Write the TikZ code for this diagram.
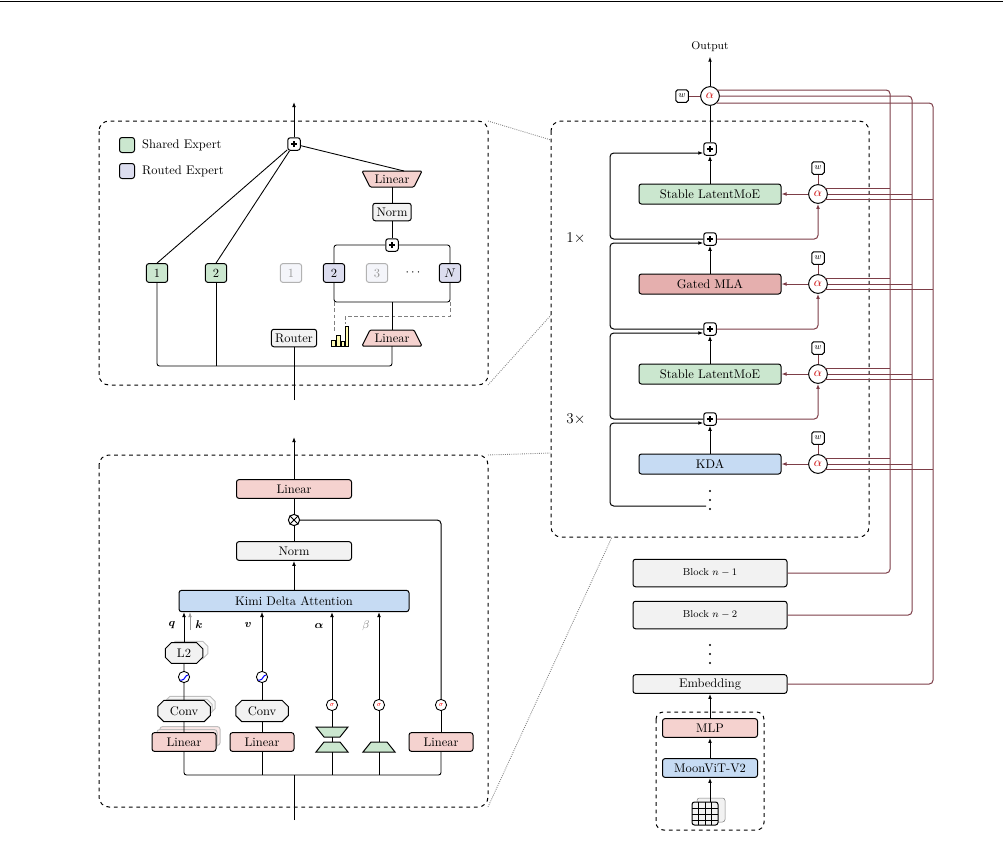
\documentclass[tikz,border=0pt]{standalone}
\usepackage{amsmath}
\usepackage{amssymb}
\usetikzlibrary{shapes.misc,arrows.meta,positioning}
\definecolor{cGreen}{HTML}{CBE7CF}
\definecolor{cRed}{HTML}{F5D2CF}
\definecolor{cMla}{HTML}{E5AFAE}
\definecolor{cBlue}{HTML}{C6DBF3}
\definecolor{cGray}{HTML}{F2F2F2}
\definecolor{cPurple}{HTML}{DCDDEF}
\definecolor{cWire}{HTML}{7D3E48}
\tikzset{
  blk/.style={draw, thick, rounded corners=2pt, minimum height=20pt, inner sep=1pt},
  expert/.style={draw, thick, rounded corners=2pt, minimum width=17pt, minimum height=15pt, inner sep=0pt},
  faded/.style={expert, draw=black!30, text=black!40, fill=cPurple!30},
  oct/.style={draw, thick, chamfered rectangle, chamfered rectangle xsep=2pt, fill=cGray, minimum height=14pt, inner sep=2pt},
  plus/.style={draw, thick, rounded corners=2pt, fill=white, minimum size=10pt, inner sep=0pt},
  mix/.style={draw, thick, circle, fill=white, minimum size=15pt, inner sep=0pt, text=red!80!black},
  wbox/.style={draw, thick, rounded corners=1.5pt, fill=white, minimum size=10pt, inner sep=0pt, font=\scriptsize},
  sig/.style={draw, circle, fill=white, minimum size=9pt, inner sep=0pt, font=\tiny, text=red},
  act/.style={draw, circle, fill=white, minimum size=9pt, inner sep=0pt},
  panel/.style={draw, thick, dashed, rounded corners=8pt},
  wire/.style={cWire, thick, rounded corners=3pt},
  arr/.style={-{Latex[length=4pt]}},
  zoomline/.style={densely dotted, gray},
}
\newcommand{\plussign}{\tikz[baseline=-0.6ex]\draw[line width=1.1pt] (-2.5pt,0) -- (2.5pt,0) (0,-2.5pt) -- (0,2.5pt);}
\newcommand{\vdotsat}[2]{\foreach \k in {0,1,2} \fill (#1,#2+\k*9) circle (0.9pt);}
\begin{document}
\begin{tikzpicture}[x=0.8pt, y=-0.8pt, line width=0.7pt]
\useasboundingbox (0,0) rectangle (1003,845);
\draw[thin] (0,1) -- (1003,1);

% ===== MoE panel =====
\draw[panel] (99,121) rectangle (488,385);
\node[expert, fill=cGreen, minimum size=12pt] (lgG) at (127,145) {};
\node[right=2pt of lgG] {Shared Expert};
\node[expert, fill=cPurple, minimum size=12pt] (lgP) at (127,171) {};
\node[right=2pt of lgP] {Routed Expert};

\node[plus] (mpl) at (294,144) {\plussign};
\node[expert, fill=cGreen] (s1) at (157,273) {1};
\node[expert, fill=cGreen] (s2) at (216,273) {2};
\node[faded] (r1) at (291,273) {1};
\node[expert, fill=cPurple] (r2) at (334,273) {2};
\node[faded] (r3) at (377,273) {3};
\node at (414,273) {$\cdots$};
\node[expert, fill=cPurple] (rN) at (450,273) {$N$};
\node[plus] (rpl) at (392,245) {\plussign};
\node[blk, fill=cGray, minimum height=14pt, inner sep=3pt] (mnorm) at (392,212) {Norm};
\node[blk, fill=cGray, minimum height=14pt, inner sep=3pt] (router) at (294,338) {Router};
% trapezoids
\draw[thick, fill=cRed, rounded corners=1pt] (362,171) -- (422,171) -- (414,187) -- (370,187) -- cycle;
\node (uplin) at (392,179) {Linear};
\draw[thick, fill=cRed, rounded corners=1pt] (370,330) -- (414,330) -- (422,346) -- (362,346) -- cycle;
\node (dnlin) at (392,338) {Linear};
% scores
\draw[thin, fill=yellow!30] (331,340) rectangle (335,346) (336,335) rectangle (340,346) (341,341) rectangle (344,346) (345,326) rectangle (348,346);
\draw[densely dashed, thin, gray] (334,302) -- (334,333);
\draw[densely dashed, thin, gray] (450,302) -- (450,316) -- (345,316) -- (345,324);

\draw (294,400) -- (294,366);
\draw[arr, thick] (mpl) -- (294,102);
\draw (s1.north) -- (mpl) (s2.north) -- (mpl) (404,171) -- (mpl);
\draw (mnorm.south) -- (rpl) (392,187) -- (mnorm.north);
\draw[rounded corners=2pt] (r2.north) |- (rpl) -| (rN.north);
\draw[rounded corners=2pt] (r2.south) |- (392,302) -| (rN.south);
\draw (392,302) -- (392,330);
\draw[rounded corners=2pt] (s1.south) |- (392,366) -- (392,346);
\draw (s2.south) -- (216,366) (router.south) -- (294,366);

% ===== KDA panel =====
\draw[panel] (99,455) rectangle (488,807);
\node[blk, fill=cBlue, minimum width=230pt*0.8, minimum height=17pt] (kda) at (294,601) {Kimi Delta Attention};
\node[blk, fill=cGray, minimum width=115pt*0.8, minimum height=15pt] (knorm) at (294,551) {Norm};
\node[draw, thick, circle, fill=white, inner sep=0pt, minimum size=9pt] (otim) at (294,520) {};
\draw (otim.north east) -- (otim.south west) (otim.north west) -- (otim.south east);
\node[blk, fill=cRed, minimum width=115pt*0.8, minimum height=15pt] (klin) at (294,489) {Linear};
\draw (294,820) -- (294,775);
\draw[arr] (kda.north) -- (knorm.south);
\draw (knorm.north) -- (otim) -- (klin.south);
\draw[arr, thick] (klin.north) -- (294,437);

% q k column
\foreach \d in {6,3} {
  \node[blk, fill=cRed!50, draw=black!25, minimum width=60pt*0.8, minimum height=15pt] at (184+\d,742-\d) {};
  \node[oct, draw=black!25, fill=cGray!50, minimum width=40pt] at (184+\d,711-\d) {};
}
\node[blk, fill=cRed, minimum width=64pt*0.8, minimum height=15pt] (qlin) at (184,742) {Linear};
\node[oct, minimum width=42pt] (qconv) at (184,711) {Conv};
\node[act] (qact) at (184,677) {};
\draw[blue, thick] (180,680) -- (182,680) .. controls (185,680) and (185,675) .. (188,675);
\node[oct, draw=black!25, fill=cGray!50, minimum width=30pt] at (189,650) {};
\node[oct, minimum width=30pt] (ql2) at (184,653) {L2};
\draw[arr, black!40] (190,630) -- (190,612);
\draw (qlin.north) -- (qconv.south) (qconv.north) -- (qact) -- (ql2);
\draw[arr, thick] (ql2.north) -- (184,612);
\node[font=\small] at (172,625) {$\boldsymbol{q}$};
\node[font=\small] at (199,625) {$\boldsymbol{k}$};
% v column
\node[blk, fill=cRed, minimum width=64pt*0.8, minimum height=15pt] (vlin) at (262,742) {Linear};
\node[oct, minimum width=42pt] (vconv) at (262,711) {Conv};
\node[act] (vact) at (262,677) {};
\draw[blue, thick] (258,680) -- (260,680) .. controls (263,680) and (263,675) .. (266,675);
\draw (vlin.north) -- (vconv.south) (vconv.north) -- (vact);
\draw[arr, thin] (vact) -- (262,612);
\node[font=\small] at (248,625) {$\boldsymbol{v}$};
% alpha column
\draw[thick, fill=cGreen] (316,727) -- (348,727) -- (340,737) -- (324,737) -- cycle;
\draw[thick, fill=cGreen] (324,742) -- (340,742) -- (348,752) -- (316,752) -- cycle;
\node[sig] (asig) at (332,705) {$\sigma$};
\draw (332,737) -- (332,742) (332,727) -- (asig);
\draw[arr, thick] (asig) -- (332,612);
\node[font=\small] at (319,626) {$\boldsymbol{\alpha}$};
% beta column
\draw[thick, fill=cGreen] (371,742) -- (387,742) -- (395,752) -- (363,752) -- cycle;
\node[sig] (bsig) at (379,705) {$\sigma$};
\draw (379,742) -- (bsig);
\draw[arr, thick] (bsig) -- (379,612);
\node[font=\small, text=gray] at (366,626) {$\beta$};
% gate column
\node[blk, fill=cRed, minimum width=64pt*0.8, minimum height=15pt] (glin) at (441,742) {Linear};
\node[sig] (gsig) at (441,705) {$\sigma$};
\draw (glin.north) -- (gsig);
\draw[thick, rounded corners=3pt] (gsig) -- (441,520) -- (otim);
% bus
\draw[rounded corners=2pt] (qlin.south) |- (441,775) -- (glin.south);
\draw (vlin.south) -- (262,775) (332,752) -- (332,775) (379,752) -- (379,775);

% ===== zoom lines =====
\draw[zoomline] (488,121) -- (551,140) (488,385) -- (551,315);
\draw[zoomline] (488,455) -- (551,453) (488,807) -- (612,537);

% ===== main stack =====
\draw[panel] (551,121) rectangle (869,537);
\node[font=\large] at (576,238) {$1\times$};
\node[font=\large] at (576,419) {$3\times$};

\node[font=\small] (out) at (710,47) {Output};
\node[mix] (a0) at (710,96) {$\alpha$};
\node[wbox] (w0) at (682,96) {$w$};
\draw[cWire] (w0) -- (a0);
\draw[arr, thick] (a0) -- (out.south);

\node[plus] (p1) at (710,149) {\plussign};
\node[blk, fill=cGreen, minimum width=142pt*0.8, minimum height=16pt] (b1) at (710,194) {Stable LatentMoE};
\node[plus] (p2) at (710,239) {\plussign};
\node[blk, fill=cMla, minimum width=142pt*0.8, minimum height=16pt] (b2) at (710,284) {Gated MLA};
\node[plus] (p3) at (710,329) {\plussign};
\node[blk, fill=cGreen, minimum width=142pt*0.8, minimum height=16pt] (b3) at (710,374) {Stable LatentMoE};
\node[plus] (p4) at (710,419) {\plussign};
\node[blk, fill=cBlue, minimum width=142pt*0.8, minimum height=16pt] (b4) at (710,464) {KDA};
\vdotsat{710}{491}
\coordinate (p5) at (706,506);

\draw[thick] (p1) -- (a0);
\foreach \b/\p in {b1/p1,b2/p2,b3/p3,b4/p4} \draw[arr, thick] (\b.north) -- (\p.south);
% residual loops
\foreach \s/\t in {p2/p1,p3/p2,p4/p3,p5/p4} {
  \draw[arr, thick, rounded corners=3pt] (\s.west) -- (610,0 |- \s.west) |- ([yshift=-3.2pt]\t.west);
}
% mixers
\foreach \i/\y in {1/194,2/284,3/374,4/464} {
  \node[mix] (a\i) at (818,\y) {$\alpha$};
  \node[wbox] (w\i) at (818,\y-26) {$w$};
  \draw[cWire] (w\i) -- (a\i);
  \draw[arr, cWire, thick] (a\i) -- (b\i.east);
  \draw[wire] (825,\y-5.6) -- (890,\y-5.6);
  \draw[wire] (a\i.east) -- (912,\y);
  \draw[wire] (825,\y+5.6) -- (933,\y+5.6);
}
\foreach \s/\t in {p2/a1,p3/a2,p4/a3} \draw[arr, wire] (\s.east) -| (\t.south);

\node[blk, fill=cGray, minimum width=154pt*0.8, minimum height=22pt, font=\footnotesize] (bn1) at (710,573) {Block $n-1$};
\node[blk, fill=cGray, minimum width=154pt*0.8, minimum height=22pt, font=\footnotesize] (bn2) at (710,615) {Block $n-2$};
\vdotsat{710}{645}
\node[blk, fill=cGray, minimum width=154pt*0.8, minimum height=15pt] (emb) at (710,684) {Embedding};

% skip wires
\draw[wire] (bn1.east) -| (890,90) -- (717,90);
\draw[wire] (bn2.east) -| (912,96) -- (a0.east);
\draw[wire] (emb.east) -| (933,103) -- (717,103);

% vision encoder
\draw[panel, rounded corners=6pt] (656,712) rectangle (764,830);
\node[blk, fill=cRed, minimum width=95pt*0.8, minimum height=15pt] (mlp) at (710,728) {MLP};
\node[blk, fill=cBlue, minimum width=95pt*0.8, minimum height=15pt] (vit) at (710,768) {MoonViT-V2};
\draw[thin, draw=gray, fill=cGray, rounded corners=2pt] (697,798) rectangle (725,822);
\draw[thick, fill=cGray, rounded corners=2pt] (692,802) rectangle (718,825);
\draw[thin] (698.5,802) -- (698.5,825) (705,802) -- (705,825) (711.5,802) -- (711.5,825)
  (692,808) -- (718,808) (692,814) -- (718,814) (692,820) -- (718,820);
\coordinate (img) at (710,802);
\draw[arr, thick] (img) -- (vit.south);
\draw[arr, thick] (vit.north) -- (mlp.south);
\draw[arr, thick] (mlp.north) -- (emb.south);
\end{tikzpicture}
\end{document}
